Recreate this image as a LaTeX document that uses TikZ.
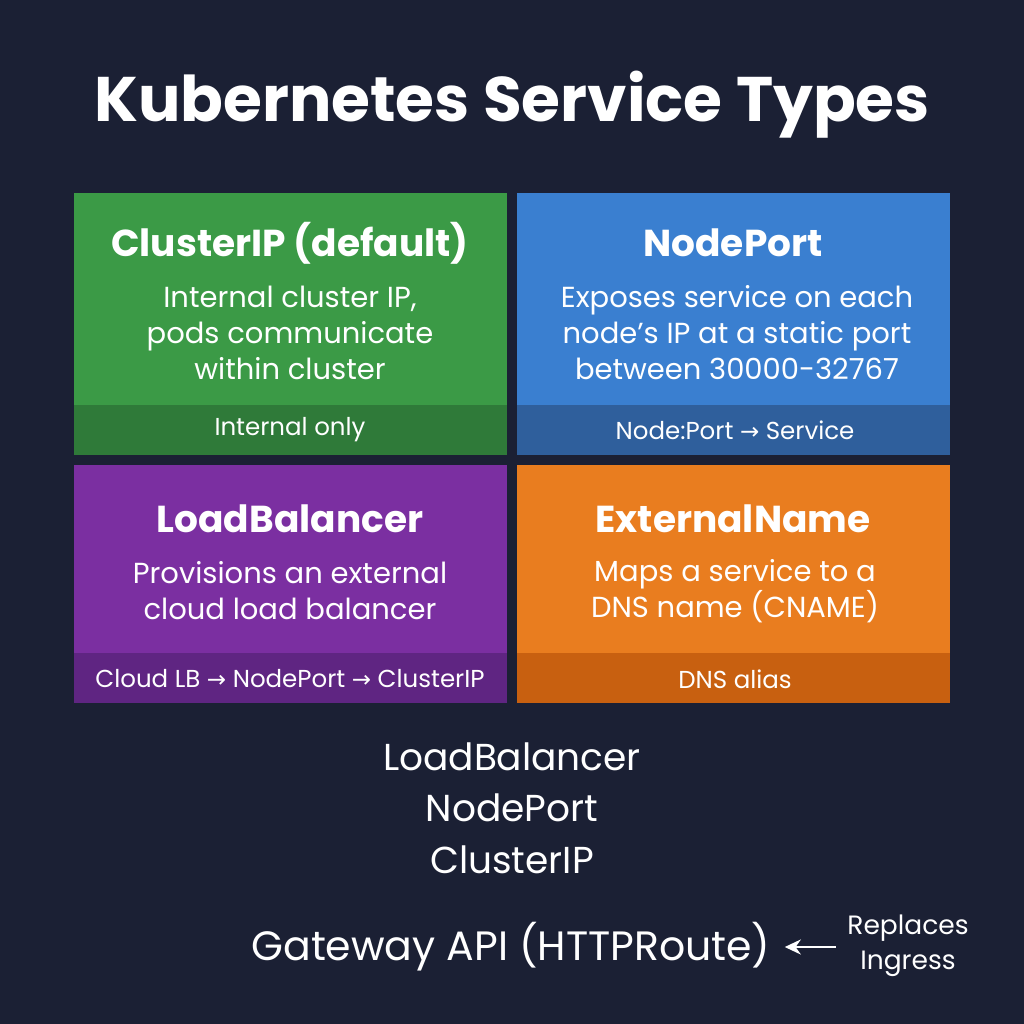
\documentclass[tikz,border=0pt]{standalone}
\usepackage{fontspec}
\setmainfont{Poppins}
\newfontfamily\sym{DejaVu Sans}
\usetikzlibrary{arrows.meta}
\definecolor{bg}{HTML}{1B2034}
\definecolor{g1}{HTML}{3B9A46}\definecolor{g2}{HTML}{2F7A39}
\definecolor{b1}{HTML}{3A7FD0}\definecolor{b2}{HTML}{2F5F9C}
\definecolor{p1}{HTML}{7B2FA1}\definecolor{p2}{HTML}{5F2582}
\definecolor{o1}{HTML}{E97D1F}\definecolor{o2}{HTML}{C86010}
\newcommand{\ar}{{\sym\fontsize{23}{23}\selectfont →}}
\begin{document}
\begin{tikzpicture}[x=1pt,y=-1pt,
 ttl/.style={text=white,font=\fontsize{37.5}{42}\selectfont\bfseries},
 bod/.style={text=white,align=center,font=\fontsize{29}{36}\selectfont},
 ftr/.style={text=white,font=\fontsize{24.5}{26}\selectfont},
 big/.style={text=white,font=\fontsize{37.5}{42}\selectfont}]
\fill[bg] (0,0) rectangle (1024,1024);
\useasboundingbox (0,0) rectangle (1024,1024);
\node[text=white,font=\fontsize{63}{70}\selectfont\bfseries] (title) at (512,105) {Kubernetes Service Types};
% boxes
\fill[g1] (74,193) rectangle (507,455); \fill[g2] (74,405) rectangle (507,455);
\fill[b1] (517,193) rectangle (950,455); \fill[b2] (517,405) rectangle (950,455);
\fill[p1] (74,465) rectangle (507,703); \fill[p2] (74,653) rectangle (507,703);
\fill[o1] (517,465) rectangle (950,703); \fill[o2] (517,653) rectangle (950,703);
\node[ttl] (t1) at (290,243) {ClusterIP (default)};
\node[bod] (d1) at (290,333) {Internal cluster IP,\\pods communicate\\within cluster};
\node[ftr] (f1) at (290,430) {Internal only};
\node[ttl] (t2) at (733,243) {NodePort};
\node[bod] (d2) at (737,333) {Exposes service on each\\node's IP at a static port\\between 30000-32767};
\node[ftr] (f2) at (735,430) {Node:Port \ar{} Service};
\node[ttl] (t3) at (290,519) {LoadBalancer};
\node[bod] (d3) at (290,591) {Provisions an external\\cloud load balancer};
\node[ftr] (f3) at (290,679) {Cloud LB \ar{} NodePort \ar{} ClusterIP};
\node[ttl] (t4) at (733,519) {ExternalName};
\node[bod] (d4) at (735,591) {Maps a service to a\\DNS name (CNAME)};
\node[ftr] (f4) at (735,679) {DNS alias};
\node[big] (l1) at (512,757) {LoadBalancer};
\node[big] (l2) at (512,808) {NodePort};
\node[big] (l3) at (512,860) {ClusterIP};
\node[text=white,font=\fontsize{41}{44}\selectfont,inner sep=2pt] (gw) at (511,947) {Gateway API (HTTPRoute)};
\node[text=white,align=center,font=\fontsize{26.5}{35}\selectfont] (rep) at (908,946) {Replaces\\Ingress};
\draw[white,line width=2.5pt,-{Stealth[length=16pt,width=15pt]}] ([xshift=-8pt]rep.west|-gw) -- ([xshift=12pt]gw.east);
\end{tikzpicture}
\end{document}
